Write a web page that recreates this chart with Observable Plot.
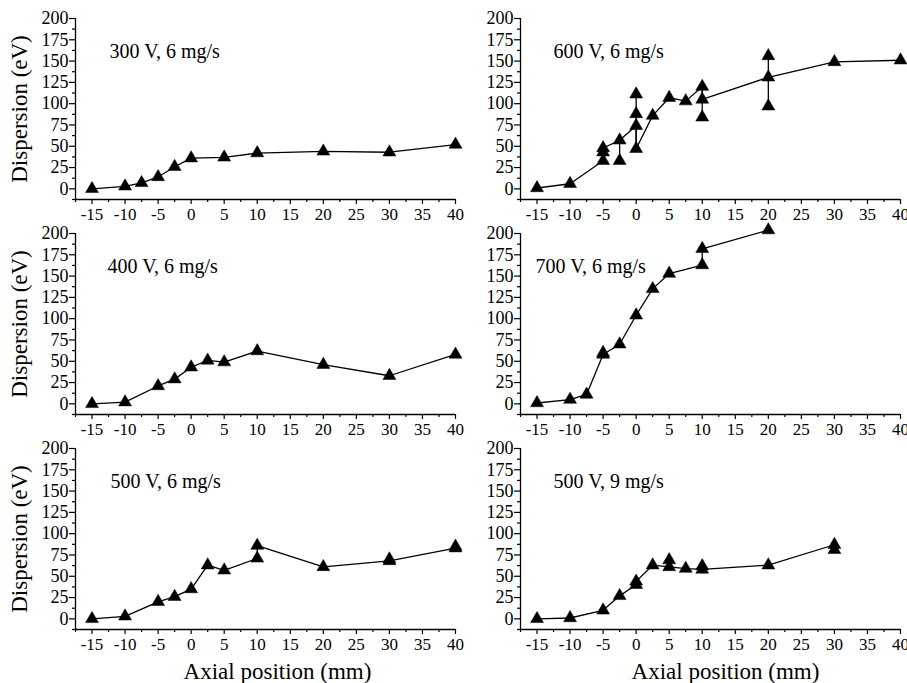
<!DOCTYPE html>
<html>
<head>
<meta charset="utf-8">
<script src="https://cdn.jsdelivr.net/npm/d3@7"></script>
<script src="https://cdn.jsdelivr.net/npm/@observablehq/plot@0.6"></script>
<style>
  body { margin: 0; background: white; }
  #wrap { position: relative; width: 907px; height: 683px; overflow: hidden; background: white; }
  .cell { position: absolute; }
  #wrap svg, #wrap svg text { font-family: "Liberation Serif", "Times New Roman", Times, serif !important; }
</style>
</head>
<body>
<div id="wrap"></div>
<script>
// ---- tick values ----
const xDomain = [-17.5, 40];
const yDomain = [-12.5, 200];
const xMajorTicks = [-15, -10, -5, 0, 5, 10, 15, 20, 25, 30, 35, 40];
const xMinorTicks = [-17.5, -12.5, -7.5, -2.5, 2.5, 7.5, 12.5, 17.5, 22.5, 27.5, 32.5, 37.5];
const yMajorTicks = [0, 25, 50, 75, 100, 125, 150, 175, 200];
const yMinorTicks = [-12.5, 12.5, 37.5, 62.5, 87.5, 112.5, 137.5, 162.5, 187.5];

// ---- panel labels ----
const labels = ["300 V, 6 mg/s", "600 V, 6 mg/s", "400 V, 6 mg/s", "700 V, 6 mg/s", "500 V, 6 mg/s", "500 V, 9 mg/s"];
const yTitle = "Dispersion (eV)";
const xTitle = "Axial position (mm)";

// ---- 300 V, 6 mg/s ----
const x300 = [-15, -10, -7.5, -5, -2.5, 0, 5, 10, 20, 30, 40];
const y300 = [0, 3, 7, 14, 26, 36, 37, 42, 44, 43, 52];

// ---- 600 V, 6 mg/s (line path, extra points, vertical ranges) ----
const x600 = [-15, -10, -5, -5, -2.5, 0, 0, 2.5, 5, 7.5, 10, 10, 20, 30, 40];
const y600 = [1, 6, 33, 48, 57, 74, 47, 86, 107, 103, 120, 105, 131, 149, 151];
const x600extra = [-5, -2.5, 0, 0, 10, 20, 20];
const y600extra = [43, 33, 88, 111, 84, 156, 97];
const x600range = [-2.5, 0, 10, 20];
const lo600range = [33, 47, 84, 97];
const hi600range = [57, 111, 120, 156];

// ---- 400 V, 6 mg/s ----
const x400 = [-15, -10, -5, -2.5, 0, 2.5, 5, 10, 20, 30, 40];
const y400 = [0, 2, 21, 29, 43, 51, 49, 62, 46, 33, 58];

// ---- 700 V, 6 mg/s ----
const x700 = [-15, -10, -7.5, -5, -2.5, 0, 2.5, 5, 10, 10, 20];
const y700 = [1, 5, 11, 58, 70, 104, 135, 153, 163, 182, 204];
const x700extra = [-5];
const y700extra = [60];

// ---- 500 V, 6 mg/s ----
const x500a = [-15, -10, -5, -2.5, 0, 2.5, 5, 10, 10, 20, 30, 40];
const y500a = [0, 3, 20, 26, 35, 63, 57, 71, 86, 61, 68, 83];
const x500aExtra = [30, 40];
const y500aExtra = [70, 85];

// ---- 500 V, 9 mg/s ----
const x500b = [-15, -10, -5, -2.5, 0, 0, 2.5, 5, 7.5, 10, 20, 30];
const y500b = [0, 1, 10, 27, 40, 44, 63, 61, 59, 58, 63, 87];
const x500bExtra = [5, 10, 30];
const y500bExtra = [69, 62, 81];

const font = "Liberation Serif, Times New Roman, Times, serif";

function zip(xs, ys) { return xs.map((x, i) => ({x, y: ys[i]})); }

function panel({label, lx, ly, ex = [], ey = [], rx = [], rlo = [], rhi = [],
                left, top, col, row, labelDx}) {
  const isLeft = col === 0;
  const isBottom = row === 2;
  const width = isLeft ? 470 : 447;
  const marginLeft = isLeft ? 75 : 60;
  const marginRight = isLeft ? 15 : 7;
  const height = isBottom ? 253 : 230;
  const marginTop = 18;
  const marginBottom = height - marginTop - 181;
  const line = zip(lx, ly);
  const points = line.concat(zip(ex, ey));
  const ranges = rx.map((x, i) => ({x, y1: rlo[i], y2: rhi[i]}));
  const marks = [
    Plot.ruleY([yDomain[0]], {stroke: "black", strokeWidth: 1.3}),
    Plot.ruleX([xDomain[0]], {stroke: "black", strokeWidth: 1.3}),
    Plot.axisX(xMinorTicks, {tickSize: 3, tickFormat: () => "", label: null, strokeWidth: 1.2}),
    Plot.axisX(xMajorTicks, {tickSize: 5, tickPadding: 3, tickFormat: (d) => String(d), label: null, fontSize: 17, strokeWidth: 1.2}),
    Plot.axisY(yMinorTicks, {tickSize: 3, tickFormat: () => "", label: null, strokeWidth: 1.2}),
    Plot.axisY(yMajorTicks, {tickSize: 6, tickPadding: 1, tickFormat: (d) => String(d), label: null, fontSize: 18, strokeWidth: 1.2}),
    Plot.ruleX(ranges, {x: "x", y1: "y1", y2: "y2", stroke: "black", strokeWidth: 1.3}),
    Plot.line(line, {x: "x", y: "y", stroke: "black", strokeWidth: 1.3}),
    Plot.dot(points, {x: "x", y: "y", symbol: "triangle", r: 4.8, fill: "black", stroke: "black", strokeWidth: 0.5}),
    Plot.text([label], {frameAnchor: "top-left", textAnchor: "start", lineAnchor: "middle", dx: labelDx, dy: 33, fontSize: 20, fill: "black", fontFamily: font})
  ];
  if (isLeft) {
    marks.push(Plot.text([yTitle], {frameAnchor: "left", textAnchor: "middle", lineAnchor: "middle", rotate: -90, dx: -56, fontSize: 23, fill: "black", fontFamily: font}));
  }
  if (isBottom) {
    marks.push(Plot.text([xTitle], {frameAnchor: "bottom", textAnchor: "middle", lineAnchor: "middle", dx: isLeft ? 12 : 15, dy: 42, fontSize: 23, fill: "black", fontFamily: font}));
  }
  const svg = Plot.plot({
    width, height, marginLeft, marginRight, marginTop, marginBottom,
    x: {domain: xDomain, label: null},
    y: {domain: yDomain, label: null},
    style: {fontFamily: font, fontSize: "17px", color: "black", background: "none", overflow: "visible"},
    marks
  });
  const div = document.createElement("div");
  div.className = "cell";
  div.style.left = left + "px";
  div.style.top = top + "px";
  div.appendChild(svg);
  document.getElementById("wrap").appendChild(div);
}

const L = 0, R = 460;
panel({label: labels[0], lx: x300, ly: y300, left: L, top: 0, col: 0, row: 0, labelDx: 34});
panel({label: labels[1], lx: x600, ly: y600, ex: x600extra, ey: y600extra, rx: x600range, rlo: lo600range, rhi: hi600range, left: R, top: 0, col: 1, row: 0, labelDx: 33});
panel({label: labels[2], lx: x400, ly: y400, left: L, top: 215, col: 0, row: 1, labelDx: 32});
panel({label: labels[3], lx: x700, ly: y700, ex: x700extra, ey: y700extra, left: R, top: 215, col: 1, row: 1, labelDx: 15});
panel({label: labels[4], lx: x500a, ly: y500a, ex: x500aExtra, ey: y500aExtra, left: L, top: 430, col: 0, row: 2, labelDx: 35});
panel({label: labels[5], lx: x500b, ly: y500b, ex: x500bExtra, ey: y500bExtra, left: R, top: 430, col: 1, row: 2, labelDx: 33});
</script>
</body>
</html>
